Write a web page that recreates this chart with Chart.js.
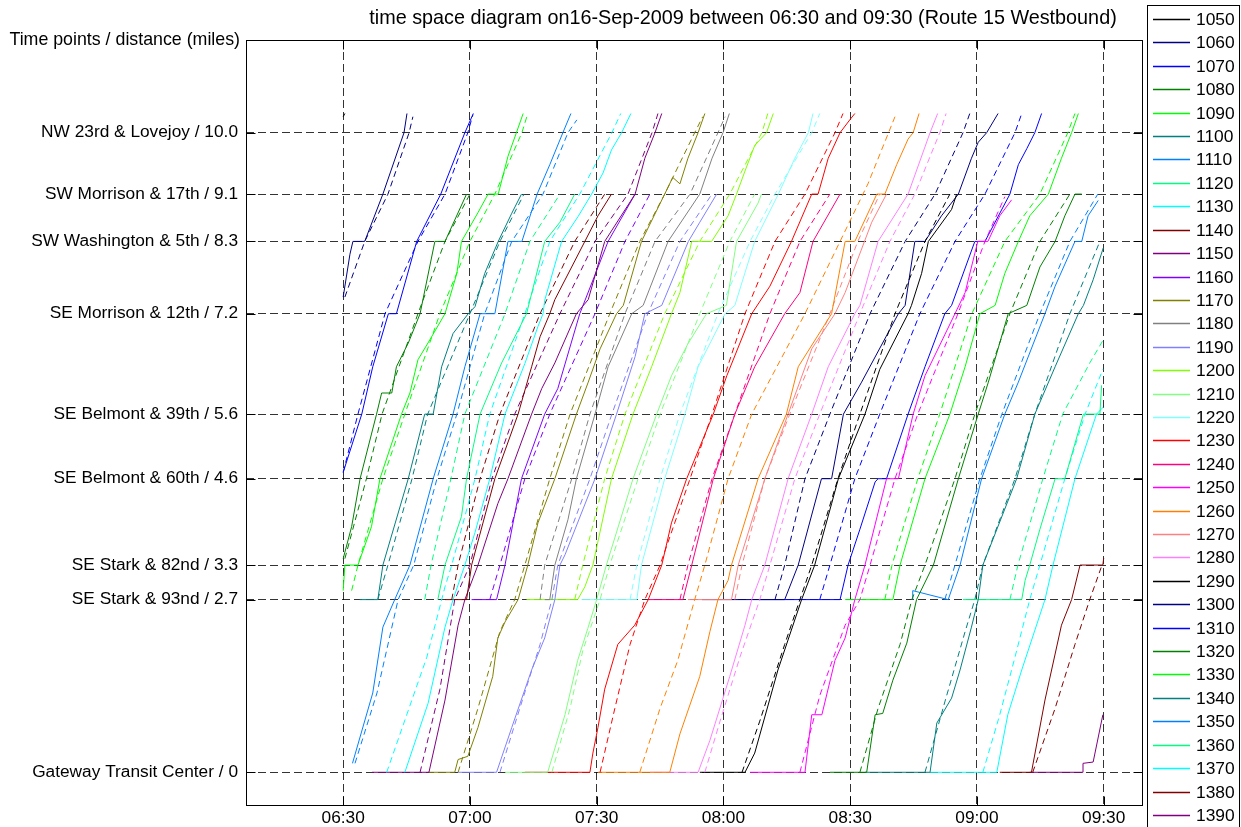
<!DOCTYPE html>
<html>
<head>
<meta charset="utf-8">
<title>Route 15 Westbound - time space diagram</title>
<script src="https://cdn.jsdelivr.net/npm/chart.js@4.4.1/dist/chart.umd.min.js"></script>
<style>
  html, body { margin:0; padding:0; background:#fff; }
  #wrap { width:1241px; height:827px; }
</style>
</head>
<body>
<div id="wrap"><canvas id="tsd" width="1241" height="827"></canvas></div>
<script>
// times are minutes after 06:00, distances are miles from Gateway Transit Center
const vehicles = ['1050','1060','1070','1080','1090','1100','1110','1120','1130','1140','1150','1160',
  '1170','1180','1190','1200','1210','1220','1230','1240','1250','1260','1270','1280','1290','1300',
  '1310','1320','1330','1340','1350','1360','1370','1380','1390'];
const stopNames = ['Gateway Transit Center / 0','SE Stark & 93nd / 2.7','SE Stark & 82nd / 3.3',
  'SE Belmont & 60th / 4.6','SE Belmont & 39th / 5.6','SE Morrison & 12th / 7.2',
  'SW Washington & 5th / 8.3','SW Morrison & 17th / 9.1','NW 23rd & Lovejoy / 10.0'];
const stopMiles = [0, 2.7, 3.24, 4.59, 5.6, 7.17, 8.3, 9.04, 10.0];
const timeTicks = [30, 60, 90, 120, 150, 180, 210];

// actual (act) and scheduled (sch) runs, [minutes, miles]
const act1050 = [[30.0,10.25],[30.4,10.3]];
const sch1050 = [];
const act1060 = [[30.0,7.43],[31.6,8.1],[32.3,8.3],[35.1,8.3],[39.4,9.04],[44.4,10],[45.1,10.3]];
const sch1060 = [[30.4,7.43],[35.1,8.3],[40.6,9.04],[45.6,10],[46.5,10.25]];
const act1070 = [[30.0,4.69],[34.4,5.6],[37.0,6.34],[40.7,7.17],[42.6,7.17],[47.4,8.3],[53.1,9.04],[58.8,10],[60.8,10.3]];
const sch1070 = [[30.0,4.69],[33.5,5.6],[39.9,7.17],[47.7,8.3],[54.1,9.04],[59.5,10],[60.7,10.28]];
const act1080 = [[30.0,3.34],[32.0,3.84],[34.0,4.59],[37.9,5.6],[39.1,5.93],[41.5,5.93],[42.6,6.34],[45.4,6.71],[48.2,7.17],[51.7,8.3],[54.1,8.3],[59.2,9.04]];
const sch1080 = [[30.4,3.34],[35.5,4.59],[39.2,5.6],[47.7,7.17],[54.1,8.3],[60.0,9.04]];
const act1090 = [[30.0,2.84],[30.4,3.24],[33.5,3.24],[36.7,3.84],[38.7,4.59],[43.8,5.6],[45.8,5.93],[47.7,6.45],[50.5,6.76],[54.1,7.17],[56.9,7.8],[58.0,8.3],[61.9,8.75],[64.3,9.04],[66.7,9.04],[69.0,9.63],[71.0,10],[72.6,10.3]];
const sch1090 = [[32.0,2.84],[33.5,3.24],[39.4,4.59],[44.6,5.6],[52.9,7.17],[60.0,8.3],[65.9,9.04],[72.3,10],[73.7,10.3]];
const act1100 = [[33.9,2.7],[38.2,2.7],[39.4,3.24],[45.4,4.59],[49.3,5.6],[51.3,5.6],[53.3,6.34],[56.0,6.86],[59.6,7.17],[61.2,7.28],[63.5,7.8],[66.7,8.3],[69.9,8.74],[72.2,9.04]];
const sch1100 = [[38.2,2.7],[40.6,3.24],[46.3,4.59],[50.0,5.6],[60.0,7.17],[67.1,8.3],[72.8,9.04]];
const act1110 = [[32.2,0.14],[37.0,1.24],[39.4,2.27],[42.2,2.7],[45.8,3.24],[51.3,4.59],[56.0,5.6],[58.8,6.34],[62.4,7.17],[65.9,7.17],[69.0,8.3],[72.3,8.3],[75.9,9.04],[78.9,9.5],[82.0,10],[83.9,10.3]];
const sch1110 = [[32.8,0.14],[38.0,1.24],[43.0,2.7],[46.7,3.24],[52.2,4.59],[56.9,5.6],[63.5,7.17],[69.9,8.3],[77.3,9.04],[83.2,10],[85.3,10.2]];
const act1120 = [[52.4,2.7],[54.1,3.24],[58.0,4.0],[59.2,4.59],[62.4,5.6],[67.5,6.4],[73.4,7.17],[77.7,8.3],[81.3,8.6],[84.8,9.04]];
const sch1120 = [[49.3,2.7],[50.8,3.24],[55.5,4.59],[58.8,5.6],[68.3,7.17],[74.2,8.3],[81.3,9.04]];
const act1130 = [[44.6,0],[50.1,1.08],[54.1,2.27],[56.0,2.7],[58.8,3.24],[61.2,3.75],[64.7,4.59],[68.3,5.6],[73.0,6.39],[76.1,6.97],[77.3,7.17],[77.7,7.38],[81.7,8.3],[85.6,8.69],[88.8,9.04],[91.5,9.37],[93.5,9.73],[95.9,10],[98.1,10.3]];
const sch1130 = [[40.3,0],[49.8,1.8],[54.1,2.9],[55.7,3.24],[61.2,4.59],[64.7,5.6],[73.0,7.17],[78.9,8.3],[86.0,9.04],[93.6,10],[95.7,10.3]];
const act1140 = [[54.1,2.7],[59.2,2.7],[60.4,3.24],[65.9,4.59],[71.4,5.6],[74.6,6.34],[76.6,6.81],[78.9,7.17],[80.1,7.39],[87.2,8.3],[90.3,8.7],[93.5,9.04]];
const sch1140 = [[55.7,2.7],[57.2,3.24],[62.4,4.59],[67.1,5.6],[76.6,7.17],[84.8,8.3],[91.9,9.04]];
const act1150 = [[36.8,0],[50.3,0],[54.1,1.13],[57.2,2.3],[58.8,2.7],[61.9,3.24],[66.6,4.2],[69.0,4.59],[74.6,5.6],[77.0,6.0],[80.1,6.4],[85.2,7.17],[88.0,7.39],[91.9,8.3],[99.1,9.04],[101.4,9.6],[103.8,10],[105.4,10.3]];
const sch1150 = [[48.2,0],[52.9,1.3],[56.4,2.7],[60.0,3.24],[65.2,4.59],[70.6,5.6],[81.3,7.17],[89.6,8.3],[97.4,9.04],[103.1,10],[104.5,10.3]];
const act1160 = [[60.4,2.7],[66.3,2.7],[68.3,3.24],[72.2,4.59],[77.7,5.6],[80.8,6.0],[86.0,7.17],[92.7,8.3],[99.1,9.04]];
const sch1160 = [[64.7,2.7],[67.1,3.24],[73.0,4.59],[78.9,5.6],[89.6,7.17],[96.7,8.3],[102.6,9.04]];
const act1170 = [[50.1,0],[56.4,0],[57.2,0.2],[59.5,0.25],[61.9,0.7],[65.4,1.5],[66.6,2.1],[68.3,2.35],[71.4,2.7],[73.7,3.24],[76.1,3.9],[80.1,4.59],[85.2,5.6],[88.0,6.1],[90.8,6.62],[94.7,7.17],[96.3,7.3],[100.6,8.3],[106.1,9.04],[108.0,9.3],[109.7,9.2],[111.6,9.6],[114.0,10],[115.6,10.3]];
const sch1170 = [[57.2,0],[61.9,1.0],[67.1,2.2],[70.6,2.7],[73.0,3.24],[78.9,4.59],[83.7,5.6],[93.1,7.17],[100.2,8.3],[106.1,9.04],[113.2,10],[115.1,10.25]];
const act1180 = [[77.7,2.7],[78.9,2.7],[80.1,3.24],[83.2,3.95],[85.2,4.59],[89.6,5.6],[92.7,6.34],[98.3,7.17],[101.0,7.3],[106.9,8.3],[114.4,9.04],[117.3,9.6],[119.9,10],[121.4,10.3]];
const sch1180 = [[76.6,2.7],[77.7,3.24],[84.1,4.59],[88.4,5.6],[96.7,7.17],[103.8,8.3],[112.1,9.04],[118.7,10],[120.4,10.25]];
const act1190 = [[57.2,0],[66.3,0],[69.9,0.7],[74.6,1.6],[77.7,2.1],[80.1,2.7],[81.3,3.24],[82.5,3.4],[89.6,4.59],[94.7,5.6],[99.1,6.5],[101.4,7.17],[105.4,7.3],[111.7,8.3],[114.4,8.6],[118.4,9.04]];
const sch1190 = [[67.1,0],[71.8,1.0],[76.6,2.0],[79.4,2.7],[80.8,3.24],[88.4,4.59],[93.6,5.6],[102.1,7.17],[109.7,8.3],[117.3,9.04]];
const act1200 = [[73.4,2.7],[85.5,2.7],[87.2,2.9],[89.1,3.24],[93.5,4.59],[98.6,5.6],[103.0,6.34],[107.7,7.17],[109.7,7.5],[112.5,8.3],[117.2,8.3],[121.1,8.7],[123.1,9.04],[125.1,9.4],[127.4,9.8],[130.2,10],[131.8,10.3]];
const sch1200 = [[84.8,2.7],[86.7,3.24],[91.9,4.59],[96.7,5.6],[106.1,7.17],[114.4,8.3],[121.5,9.04],[129.1,10],[130.5,10.3]];
const act1210 = [[68.3,0],[78.4,0],[82.5,0.9],[85.5,1.75],[87.9,2.25],[90.0,2.7],[92.3,3.24],[98.6,4.59],[104.2,5.6],[107.7,6.2],[111.6,6.7],[116.0,7.17],[120.7,7.3],[123.1,8.3],[128.2,8.9],[129.0,9.04]];
const sch1210 = [[79.4,0],[83.7,1.0],[86.7,1.9],[90.8,2.7],[93.1,3.24],[99.8,4.59],[105.0,5.6],[114.4,7.17],[121.5,8.3],[127.4,9.04]];
const act1220 = [[86.4,2.7],[99.5,2.7],[100.6,3.24],[106.1,4.59],[110.9,5.6],[114.0,6.34],[120.4,7.17],[122.7,7.3],[127.4,8.3],[133.0,9.04],[136.9,9.6],[140.1,10],[141.2,10.3]];
const sch1220 = [[97.9,2.7],[99.5,3.24],[105.0,4.59],[109.7,5.6],[118.7,7.17],[126.3,8.3],[132.2,9.04],[140.9,10],[142.8,10.3]];
const act1230 = [[73.0,0],[88.4,0],[89.1,0.3],[90.3,0.7],[91.9,1.3],[95.0,2.0],[99.0,2.3],[102.2,2.7],[105.4,3.24],[107.7,3.9],[111.3,4.59],[117.6,5.6],[120.8,6.2],[126.7,7.17],[131.0,7.6],[136.1,8.3],[140.9,9.04],[142.4,9.04],[144.8,9.6],[147.6,10],[149.9,10.2],[151.1,10.3]];
const sch1230 = [[90.8,0],[94.3,1.0],[97.9,2.0],[101.4,2.7],[105.0,3.24],[112.1,4.59],[117.3,5.6],[125.1,7.17],[132.2,8.3],[139.3,9.04],[146.4,10],[148.3,10.3]];
const act1240 = [[102.1,2.7],[110.4,2.7],[112.5,3.24],[117.6,4.59],[122.7,5.6],[127.4,6.34],[134.5,7.17],[138.1,7.5],[141.2,8.3],[147.6,9.04]];
const sch1240 = [[109.7,2.7],[111.6,3.24],[117.3,4.59],[122.7,5.6],[131.0,7.17],[138.1,8.3],[145.2,9.04]];
const act1250 = [[126.3,0],[139.3,0],[140.9,0.9],[143.3,0.9],[146.4,1.75],[148.8,2.1],[151.1,2.7],[153.5,3.24],[158.6,4.59],[161.4,4.59],[164.9,5.6],[167.7,6.2],[174.8,7.17],[177.2,7.5],[180.2,8.3],[182.6,8.3],[185.4,8.7],[188.2,8.95]];
const sch1250 = [[138.1,0],[142.8,1.2],[148.8,2.3],[152.3,2.7],[154.7,3.24],[160.6,4.59],[166.0,5.6],[175.5,7.17],[181.9,8.3],[186.6,9.0]];
const act1260 = [[90.3,0],[107.3,0],[109.7,0.6],[114.4,1.5],[116.8,2.2],[118.7,2.7],[121.1,3.0],[121.9,3.24],[128.2,4.59],[134.9,5.6],[137.7,6.34],[145.6,7.17],[148.8,8.3],[151.1,8.3],[156.3,9.04],[158.2,9.04],[161.0,9.5],[163.7,9.9],[164.9,10],[166.3,10.3]];
const sch1260 = [[100.2,0],[105.0,1.0],[109.2,1.75],[113.2,2.7],[115.6,3.24],[121.1,4.59],[126.7,5.6],[139.3,7.17],[147.6,8.3],[154.2,9.2],[160.6,10.25]];
const act1270 = [[111.6,2.7],[121.9,2.7],[123.5,3.24],[129.8,4.59],[135.3,5.6],[140.9,6.62],[146.4,7.17],[148.8,7.5],[155.1,8.6],[158.6,9.04]];
const sch1270 = [[122.7,2.7],[124.4,3.24],[129.8,4.59],[135.7,5.6],[145.2,7.17],[151.8,8.3],[157.0,9.04]];
const act1280 = [[102.6,0],[114.0,0],[116.8,0.5],[121.5,1.5],[125.1,2.3],[126.7,2.7],[129.8,3.24],[135.3,4.59],[140.9,5.6],[144.8,6.34],[151.1,7.17],[152.3,7.3],[156.6,8.3],[163.7,9.04],[168.9,10],[170.7,10.3]];
const sch1280 = [[115.6,0],[119.2,0.8],[123.9,1.8],[128.6,2.7],[131.0,3.24],[136.9,4.59],[142.8,5.6],[152.3,7.17],[159.4,8.3],[165.3,9.04],[171.2,10],[172.7,10.3]];
const act1290 = [[114.4,0],[125.1,0],[127.4,0.3],[132.9,1.6],[138.5,2.7],[141.6,3.24],[145.6,4.2],[147.2,4.59],[153.5,5.6],[157.0,6.3],[163.7,7.17],[164.5,7.3],[166.9,7.8],[168.5,8.3],[174.0,8.8],[175.2,9.04]];
const sch1290 = [[124.4,0],[128.6,0.8],[134.5,2.0],[138.1,2.7],[140.9,3.24],[147.1,4.59],[152.3,5.6],[160.6,7.17],[167.7,8.3],[173.6,9.04]];
const act1300 = [[114.9,2.7],[134.5,2.7],[137.7,3.24],[143.2,4.59],[145.6,4.59],[148.4,5.6],[152.7,6.1],[161.4,7.17],[163.0,7.3],[165.3,8.3],[167.7,8.3],[171.6,8.7],[175.6,9.04],[178.7,9.6],[180.3,9.85],[182.3,10],[185.0,10.3]];
const sch1300 = [[132.2,2.7],[134.5,3.24],[139.3,4.59],[145.2,5.6],[154.7,7.17],[163.0,8.3],[170.1,9.04],[176.7,10],[178.3,10.3]];
const act1310 = [[128.6,2.7],[147.6,2.7],[149.5,3.24],[152.3,3.8],[155.9,4.54],[156.6,4.59],[158.6,4.59],[163.7,5.6],[167.7,6.34],[172.4,7.17],[174.0,7.3],[179.5,8.3],[181.9,8.3],[187.8,9.04],[189.8,9.5],[191.8,9.75],[193.7,10],[195.3,10.3]];
const sch1310 = [[142.8,2.7],[145.2,3.24],[151.1,4.59],[157.0,5.6],[166.5,7.17],[174.8,8.3],[181.9,9.04],[189.0,10],[190.6,10.3]];
const act1320 = [[145.2,0],[153.9,0],[155.9,0.9],[157.7,0.92],[160.1,1.44],[163.4,2.02],[165.7,2.7],[169.7,3.24],[175.6,4.59],[180.3,5.6],[182.7,6.1],[187.4,7.17],[191.8,7.3],[194.9,7.9],[198.5,8.3],[200.8,8.7],[203.2,9.04],[204.8,9.04]];
const sch1320 = [[152.3,0],[156.6,1.0],[161.8,2.0],[164.6,2.7],[167.7,3.24],[174.8,4.59],[179.5,5.6],[187.8,7.17],[194.9,8.3],[202.0,9.04]];
const act1330 = [[148.8,2.7],[160.1,2.7],[161.8,3.24],[167.7,4.59],[173.6,5.6],[177.2,6.34],[180.7,7.17],[184.3,7.3],[186.6,7.8],[189.8,8.3],[192.5,8.7],[196.9,9.04],[200.0,9.6],[202.4,10],[204.0,10.3]];
const sch1330 = [[158.2,2.7],[159.9,3.24],[166.0,4.59],[171.2,5.6],[178.8,7.17],[186.6,8.3],[194.9,9.04],[201.5,10],[203.2,10.3]];
const act1340 = [[153.5,0],[168.9,0],[170.5,0.77],[174.0,1.16],[176.0,1.6],[178.7,2.27],[180.3,2.7],[181.4,3.24],[189.4,4.59],[193.7,5.6],[198.5,6.34],[204.0,7.17],[205.2,7.3],[207.5,7.7],[209.9,8.2]];
const sch1340 = [[167.7,0],[172.4,1.1],[177.2,2.2],[179.5,2.7],[181.4,3.24],[189.0,4.59],[193.7,5.6],[202.0,7.17],[209.1,8.3]];
const act1350 = [[164.8,2.7],[164.8,2.84],[173.2,2.7],[176.0,3.24],[181.1,4.59],[186.6,5.6],[189.8,6.1],[196.1,7.17],[198.5,7.6],[203.2,8.3],[204.8,8.3],[206.3,8.7],[208.7,8.94]];
const sch1350 = [[172.4,2.7],[174.8,3.24],[180.7,4.59],[185.9,5.6],[194.9,7.17],[202.0,8.3],[208.6,9.04]];
const act1360 = [[176.7,2.7],[190.6,2.7],[191.4,3.0],[192.5,3.24],[194.9,3.8],[198.5,4.59],[200.8,4.59],[205.2,5.6],[209.1,5.6],[209.5,6.05]];
const sch1360 = [[187.8,2.7],[189.7,3.24],[195.6,4.59],[200.3,5.6],[206.7,6.4],[209.8,6.75]];
const act1370 = [[168.9,0],[184.7,0],[187.3,0.9],[190.6,1.6],[196.1,2.7],[198.0,3.24],[203.2,4.59],[208.3,5.6],[209.9,5.71]];
const sch1370 = [[181.4,0],[185.4,0.9],[189.0,1.8],[192.5,2.7],[194.9,3.24],[200.8,4.59],[205.6,5.6],[209.8,6.3]];
const act1380 = [[185.4,0],[192.9,0],[196.1,1.13],[200.0,2.3],[202.4,2.7],[204.4,3.24],[209.8,3.24],[210.0,3.35]];
const sch1380 = [[193.2,0],[198.5,1.0],[203.2,2.0],[206.7,2.7],[209.6,3.24]];
const act1390 = [[192.5,0],[205.1,0],[205.1,0.14],[207.5,0.16],[209.8,0.9]];
const sch1390 = [];

const actualRuns = [act1050,act1060,act1070,act1080,act1090,act1100,act1110,act1120,act1130,act1140,
  act1150,act1160,act1170,act1180,act1190,act1200,act1210,act1220,act1230,act1240,act1250,act1260,
  act1270,act1280,act1290,act1300,act1310,act1320,act1330,act1340,act1350,act1360,act1370,act1380,act1390];
const schedRuns = [sch1050,sch1060,sch1070,sch1080,sch1090,sch1100,sch1110,sch1120,sch1130,sch1140,
  sch1150,sch1160,sch1170,sch1180,sch1190,sch1200,sch1210,sch1220,sch1230,sch1240,sch1250,sch1260,
  sch1270,sch1280,sch1290,sch1300,sch1310,sch1320,sch1330,sch1340,sch1350,sch1360,sch1370,sch1380,sch1390];

// line colours cycle after 24 vehicles
const palette = ['#000000','#000080','#0000ff','#008000','#00ff00','#008080','#0080ff','#00ff80',
  '#00ffff','#800000','#800080','#8000ff','#808000','#808080','#8080ff','#80ff00','#80ff80',
  '#80ffff','#ff0000','#ff0080','#ff00ff','#ff8000','#ff8080','#ff80ff'];

const FONT = '"Liberation Sans", Arial, Helvetica, sans-serif';
const toPts = run => run.map(p => ({ x: p[0], y: p[1] }));
const hhmm = v => { const h = 6 + Math.floor(v / 60), m = Math.round(v % 60);
  return String(h).padStart(2,'0') + ':' + String(m).padStart(2,'0'); };

const datasets = [];
vehicles.forEach((v, i) => {
  const c = palette[i % palette.length];
  datasets.push({ label: v, data: toPts(actualRuns[i]), borderColor: c, borderWidth: 1 });
  datasets.push({ label: v + ' schedule', data: toPts(schedRuns[i]), borderColor: c, borderWidth: 1,
                  borderDash: [6, 4], sched: true });
});

// box, inner tick marks, title, y label and the legend box
const decorations = {
  id: 'decorations',
  afterDraw(chart) {
    const { ctx, chartArea: a, scales } = chart;
    ctx.save();
    ctx.strokeStyle = '#000';
    ctx.lineWidth = 1;
    const L = Math.round(a.left) + 0.5, R = Math.round(a.right) - 0.5;
    const T = Math.round(a.top) + 0.5, B = Math.round(a.bottom) - 0.5;
    ctx.strokeRect(L, T, R - L, B - T);
    ctx.beginPath();
    timeTicks.forEach(t => {
      const x = Math.round(scales.x.getPixelForValue(t)) + 0.5;
      ctx.moveTo(x, B); ctx.lineTo(x, B - 9);
      ctx.moveTo(x, T); ctx.lineTo(x, T + 9);
    });
    stopMiles.forEach(m => {
      const y = Math.round(scales.y.getPixelForValue(m)) + 0.5;
      ctx.moveTo(L, y); ctx.lineTo(L + 9, y);
      ctx.moveTo(R, y); ctx.lineTo(R - 9, y);
    });
    ctx.stroke();

    ctx.fillStyle = '#000';
    ctx.textBaseline = 'middle';
    ctx.textAlign = 'center';
    ctx.font = '19.8px ' + FONT;
    ctx.fillText('time space diagram on16-Sep-2009 between 06:30 and 09:30 (Route 15 Westbound)', 743, 19);
    ctx.textAlign = 'right';
    ctx.font = '17.8px ' + FONT;
    ctx.fillText('Time points / distance (miles)', 240, 40);

    // legend
    ctx.font = '17.4px ' + FONT;
    ctx.fillStyle = '#fff';
    ctx.fillRect(1147, 5, 94, 830);
    ctx.strokeStyle = '#000';
    ctx.strokeRect(1147.5, 5.5, 92, 830);
    ctx.textAlign = 'left';
    chart.data.datasets.filter(d => !d.sched).forEach((d, i) => {
      const y = Math.round(19 + i * 23.41) + 0.5;
      ctx.strokeStyle = d.borderColor;
      ctx.lineWidth = 1.5;
      ctx.beginPath(); ctx.moveTo(1153, y); ctx.lineTo(1190, y); ctx.stroke();
      ctx.fillStyle = '#000';
      ctx.fillText(d.label, 1196, y + 1);
    });
    ctx.restore();
  }
};

Chart.defaults.font.family = FONT;
Chart.defaults.font.size = 17.3;
Chart.defaults.color = '#000';

new Chart(document.getElementById('tsd'), {
  type: 'line',
  data: { datasets },
  plugins: [decorations],
  options: {
    responsive: false,
    animation: false,
    layout: { padding: { top: 40, right: 98, left: 0, bottom: 0 } },
    elements: { point: { radius: 0, hoverRadius: 0 }, line: { tension: 0, fill: false } },
    plugins: { legend: { display: false }, tooltip: { enabled: false } },
    scales: {
      x: {
        type: 'linear', min: 7, max: 219.3,
        afterBuildTicks: s => { s.ticks = timeTicks.map(v => ({ value: v })); },
        afterFit: s => { s.height = 21; },
        ticks: { callback: v => hhmm(v), padding: 2, maxRotation: 0, autoSkip: false },
        grid: { color: 'rgba(0,0,0,0.8)', lineWidth: 1, drawTicks: false },
        border: { display: false, dash: [8, 4] }
      },
      y: {
        type: 'linear', min: -0.527, max: 11.449,
        afterBuildTicks: s => { s.ticks = stopMiles.map(v => ({ value: v })); },
        afterFit: s => { s.width = 246; },
        ticks: { callback: (v, i) => stopNames[i], padding: 8, autoSkip: false },
        grid: { color: 'rgba(0,0,0,0.8)', lineWidth: 1, drawTicks: false },
        border: { display: false, dash: [8, 4] }
      }
    }
  }
});
</script>
</body>
</html>
